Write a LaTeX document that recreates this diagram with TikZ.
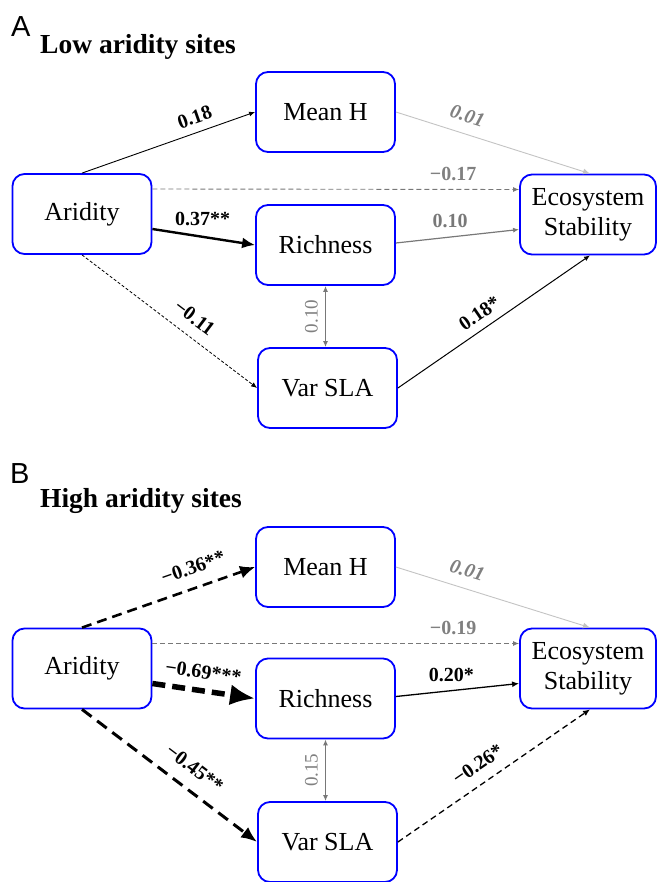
\documentclass[tikz,border=0pt]{standalone}
\usepackage{fontspec}
\setmainfont{Liberation Serif}
\newfontfamily\panelfont{Liberation Sans}
\usetikzlibrary{arrows.meta}

\definecolor{linegray}{RGB}{120,120,120}
\definecolor{palegray}{RGB}{195,195,195}
\definecolor{labelgray}{RGB}{128,128,128}

\tikzstyle{box} = [rectangle, rounded corners=12pt, minimum width=139pt, minimum height=80pt, inner sep=0pt, align=center, draw=blue, line width=1.8pt, font=\fontsize{26}{30}\selectfont]
\tikzstyle{coef} = [font=\bfseries\fontsize{20}{20}\selectfont, inner sep=3pt]
\tikzstyle{gcoef} = [coef, text=labelgray]
\tikzstyle{icoef} = [coef, text=labelgray, font=\bfseries\itshape\fontsize{20}{20}\selectfont]
\tikzstyle{ccoef} = [font=\fontsize{19}{19}\selectfont, text=labelgray, inner sep=3pt]
\tikzstyle{panel} = [anchor=base west, inner sep=0pt, font=\panelfont\fontsize{29}{29}\selectfont]
\tikzstyle{title} = [anchor=base west, inner sep=0pt, font=\bfseries\fontsize{27.5}{27.5}\selectfont]

\begin{document}
\begin{tikzpicture}[x=1pt,y=-1pt]

    \useasboundingbox (0,0) rectangle (657,882);

    % Pannello A
    \node[panel] (lettA) at (11,37) {A};
    \node[title] (titA) at (40,54) {Low aridity sites};

    \node[box] (aridA) at (82,214) {Aridity};
    \node[box] (meanA) at (325.5,112) {Mean H};
    \node[box] (richA) at (325.5,245) {Richness};
    \node[box] (varA) at (327.5,388) {Var SLA};
    \node[box, minimum width=136pt] (ecoA) at (588,214.5) {Ecosystem\\Stability};

    % Frecce A
    \draw[-{Latex[length=6pt,width=5pt]}, line width=0.9pt] (aridA.north) -- node[coef, sloped, above=5pt, pos=0.68] {0.18} (meanA.west);
    \draw[-{Latex[length=6pt,width=5pt]}, linegray, line width=0.9pt, dash pattern=on 5pt off 3pt] ([yshift=25pt]aridA.east) -- node[gcoef, above=5pt, pos=0.82] {−0.17} ([yshift=25pt]ecoA.west);
    \draw[-{Latex[length=13pt,width=11pt]}, line width=2.4pt] ([yshift=-15pt]aridA.east) -- node[coef, above=7pt, pos=0.49] {0.37**} (richA.west);
    \draw[-{Latex[length=6pt,width=5pt]}, line width=0.8pt, dash pattern=on 3pt off 2pt] (aridA.south) -- node[coef, sloped, above=8pt, pos=0.58] {−0.11} (varA.west);
    \draw[-{Latex[length=7pt,width=6pt]}, palegray, line width=0.9pt] (meanA.east) -- node[icoef, sloped, above=8pt, pos=0.34] {0.01} ([xshift=2pt]ecoA.north);
    \draw[-{Latex[length=6pt,width=5pt]}, linegray, line width=1.2pt] ([yshift=2pt]richA.east) -- node[coef, above=6pt, pos=0.44] {0.10} ([yshift=-15pt]ecoA.west);
    \draw[-{Latex[length=6pt,width=5pt]}, line width=1pt] (varA.east) -- node[coef, sloped, above=5pt, pos=0.47] {0.18*} ([xshift=2pt]ecoA.south);
    \draw[{Latex[length=6pt,width=5pt]}-{Latex[length=6pt,width=5pt]}, linegray, line width=1.2pt] (richA.south |- varA.north) -- node[ccoef, sloped, above=4pt] {0.10} (richA.south);

    % Pannello B
    \node[panel] (lettB) at (10,483) {B};
    \node[title] (titB) at (40,507) {High aridity sites};

    \node[box] (aridB) at (82,668.5) {Aridity};
    \node[box] (meanB) at (325.5,567) {Mean H};
    \node[box] (richB) at (325.5,698.5) {Richness};
    \node[box] (varB) at (327.5,842) {Var SLA};
    \node[box, minimum width=136pt] (ecoB) at (588,668.5) {Ecosystem\\Stability};

    % Frecce B
    \draw[-{Latex[length=15pt,width=13pt]}, line width=2.6pt, dash pattern=on 10pt off 6pt] (aridB.north) -- node[coef, sloped, above=9pt, pos=0.68] {−0.36**} (meanB.west);
    \draw[-{Latex[length=6pt,width=5pt]}, linegray, line width=0.9pt, dash pattern=on 5pt off 3pt] ([yshift=25pt]aridB.east) -- node[gcoef, above=5pt, pos=0.82] {−0.19} ([yshift=25pt]ecoB.west);
    \draw[-{Latex[length=25pt,width=21pt]}, line width=5.5pt, dash pattern=on 13pt off 7pt] ([yshift=-15pt]aridB.east) -- node[coef, sloped, above=6pt, pos=0.47] {−0.69***} (richB.west);
    \draw[-{Latex[length=16pt,width=13pt]}, line width=3pt, dash pattern=on 12pt off 7pt] (aridB.south) -- node[coef, sloped, above=10pt, pos=0.57] {−0.45**} (varB.west);
    \draw[-{Latex[length=7pt,width=6pt]}, palegray, line width=0.9pt] (meanB.east) -- node[icoef, sloped, above=8pt, pos=0.34] {0.01} ([xshift=2pt]ecoB.north);
    \draw[-{Latex[length=7pt,width=6pt]}, line width=1.3pt] ([yshift=2pt]richB.east) -- node[coef, above=5pt, pos=0.45] {0.20*} ([yshift=-15pt]ecoB.west);
    \draw[-{Latex[length=7pt,width=6pt]}, line width=1.3pt, dash pattern=on 6pt off 4pt] (varB.east) -- node[coef, sloped, above=8pt, pos=0.47] {−0.26*} ([xshift=2pt]ecoB.south);
    \draw[{Latex[length=6pt,width=5pt]}-{Latex[length=6pt,width=5pt]}, linegray, line width=1.2pt] (richB.south |- varB.north) -- node[ccoef, sloped, above=4pt] {0.15} (richB.south);

\end{tikzpicture}
\end{document}
